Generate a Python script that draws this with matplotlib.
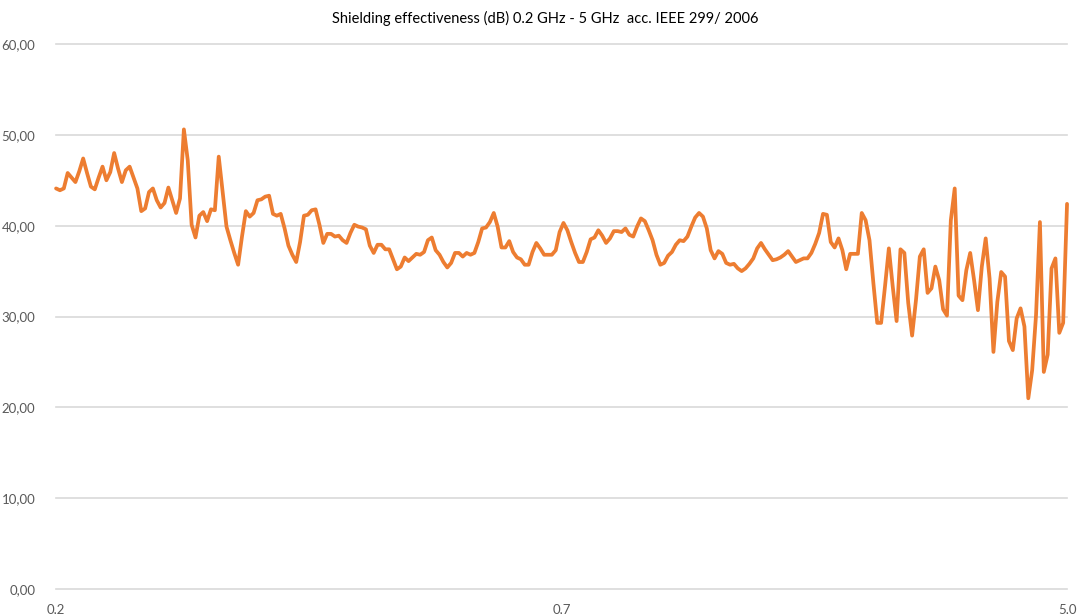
import matplotlib
matplotlib.use('Agg')
import matplotlib.pyplot as plt
import numpy as np

# shielding effectiveness in dB
se_db = [
    44.1, 43.9, 44.1, 45.8, 45.3, 44.8, 46.0, 47.4, 45.8, 44.3,
    44.0, 45.3, 46.5, 45.0, 45.9, 48.0, 46.3, 44.8, 46.1, 46.5,
    45.3, 44.1, 41.6, 41.9, 43.7, 44.1, 42.8, 42.0, 42.5, 44.2,
    42.8, 41.4, 43.0, 50.6, 47.2, 40.1, 38.7, 41.1, 41.5, 40.5,
    41.8, 41.7,
    47.6, 43.7, 39.9, 38.4, 37.0, 35.7, 38.8, 41.6, 41.0, 41.4,
    42.8, 42.9, 43.2, 43.3, 41.3, 41.1, 41.3, 39.7, 37.8, 36.8,
    36.0, 38.2, 41.1, 41.2, 41.7, 41.8, 40.1, 38.1, 39.1, 39.1,
    38.8, 38.9, 38.4, 38.1, 39.2, 40.1, 39.9, 39.8, 39.6, 37.8,
    37.0, 37.9,
    37.9, 37.4, 37.4, 36.3, 35.2, 35.5, 36.5, 36.1, 36.5, 36.9,
    36.8, 37.1, 38.4, 38.7, 37.3, 36.8, 36.0, 35.4, 35.9, 37.0,
    37.0, 36.6, 37.0, 36.8, 37.0, 38.2, 39.7, 39.8, 40.4, 41.4,
    39.9, 37.6, 37.6, 38.3, 37.1, 36.5, 36.3, 35.7, 35.7, 37.1,
    38.1,
    37.5, 36.8, 36.8, 36.8, 37.3, 39.3, 40.3, 39.5, 38.2, 37.0,
    36.0, 36.0, 37.1, 38.5, 38.7, 39.5, 38.9, 38.1, 38.6, 39.4,
    39.4, 39.3, 39.7, 39.0, 38.8, 39.9, 40.8, 40.5, 39.5, 38.4,
    36.8, 35.7, 35.9, 36.7, 37.1, 37.9, 38.4, 38.3, 38.8, 39.9,
    40.9, 41.4,
    41.0, 39.7, 37.3, 36.4, 37.2, 36.9, 35.9, 35.7, 35.8, 35.3,
    35.0, 35.3, 35.8, 36.4, 37.5, 38.1, 37.4, 36.8, 36.2, 36.3,
    36.5, 36.8, 37.2, 36.6, 36.0, 36.2, 36.4, 36.4, 37.0, 38.0,
    39.2, 41.3, 41.2, 38.2, 37.6, 38.6, 37.3, 35.2, 36.9, 36.9,
    36.9,
    41.4, 40.6, 38.4, 33.7, 29.3, 29.3, 33.3, 37.5, 33.3, 29.5,
    37.4, 37.0, 31.5, 27.9, 31.8, 36.6, 37.4, 32.6, 33.1, 35.5,
    34.0, 30.8, 30.1, 40.6, 44.1,
    32.3, 31.8, 35.1, 37.0, 34.0, 30.7, 35.5, 38.6, 34.2, 26.1,
    31.6, 34.9, 34.4, 27.3, 26.3, 29.8, 30.9, 28.9, 21.0, 24.1,
    30.2, 40.4, 23.9, 25.8, 35.3, 36.4, 28.2, 29.3, 42.4,
]

x_labels = ['0,2', '0,7', '5,0']
y_ticks = [0, 10, 20, 30, 40, 50, 60]

title = 'Shielding effectiveness (dB) 0.2 GHz - 5 GHz  acc. IEEE 299/ 2006'


def main():
    plt.rcParams['font.family'] = ['Lato', 'DejaVu Sans']

    fig = plt.figure(figsize=(10.8, 6.14), dpi=100)
    ax = fig.add_axes([0.0519, 0.0407, 0.9361, 0.8876])

    idx = np.arange(len(se_db))
    ax.plot(idx, se_db, color='#ED7D31', linewidth=2.7,
            solid_joinstyle='round', solid_capstyle='round', clip_on=False)

    ax.set_xlim(0, len(se_db) - 1)
    ax.set_ylim(0, 60)

    ax.set_yticks(y_ticks)
    ax.set_yticklabels(['{:.2f}'.format(v).replace('.', ',') for v in y_ticks])
    ax.set_xticks([0, (len(se_db) - 1) / 2, len(se_db) - 1])
    ax.set_xticklabels(x_labels)

    ax.grid(True, axis='y', color='#d9d9d9', linewidth=1.2)
    for line in ax.get_ygridlines():
        line.set_clip_on(False)
    ax.set_axisbelow(True)
    for s in ax.spines.values():
        s.set_visible(False)
    ax.tick_params(length=0, colors='#595959', labelsize=9.5)
    ax.tick_params(axis='y', pad=15)
    ax.tick_params(axis='x', pad=10)

    fig.text(0.505, 0.97, title, ha='center', va='center', fontsize=10.5, color='#000000')

    fig.savefig('out.png', dpi=100)


if __name__ == '__main__':
    main()
